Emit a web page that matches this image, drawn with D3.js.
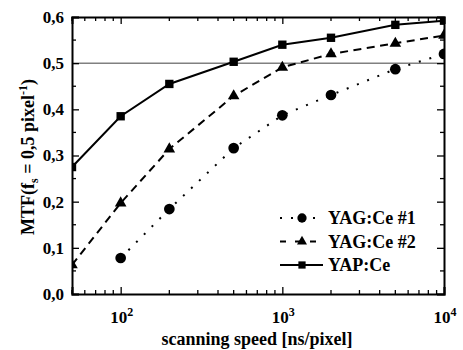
<!DOCTYPE html>
<html>
<head>
<meta charset="utf-8">
<script src="https://cdn.jsdelivr.net/npm/d3@7"></script>
<style>
  body { margin: 0; background: #fff; }
</style>
</head>
<body>
<div id="chart"></div>
<script>
// scanning speed [ns/pixel]
const speedYAP = [50, 100, 200, 500, 1000, 2000, 5000, 10000];
const mtfYAP = [0.275, 0.385, 0.455, 0.503, 0.540, 0.555, 0.583, 0.592];
const speedYAG2 = [50, 100, 200, 500, 1000, 2000, 5000, 10000];
const mtfYAG2 = [0.063, 0.197, 0.314, 0.429, 0.491, 0.520, 0.543, 0.560];
const speedYAG1 = [100, 200, 500, 1000, 2000, 5000, 10000];
const mtfYAG1 = [0.078, 0.184, 0.316, 0.387, 0.431, 0.487, 0.520];
const seriesNames = ['YAG:Ce #1', 'YAG:Ce #2', 'YAP:Ce'];
const yTicks = [0, 0.1, 0.2, 0.3, 0.4, 0.5, 0.6];
const xTicks = [100, 1000, 10000];
const refLevel = 0.5;

const width = 463, height = 350;
const margin = { top: 17, right: 19, bottom: 56, left: 72 };
const iw = width - margin.left - margin.right;
const ih = height - margin.top - margin.bottom;
const FONT = 'Liberation Serif';

const x = d3.scaleLog().domain([50, 10000]).range([0, iw]);
const y = d3.scaleLinear().domain([0, 0.6]).range([ih, 0]);

const svg = d3.select('#chart').append('svg')
  .attr('width', width)
  .attr('height', height);

svg.append('defs').append('clipPath').attr('id', 'clip')
  .append('rect').attr('width', iw).attr('height', ih);

const g = svg.append('g').attr('transform', `translate(${margin.left},${margin.top})`);

// reference line at 0.5
g.append('line')
  .attr('x1', 0).attr('x2', iw)
  .attr('y1', y(refLevel)).attr('y2', y(refLevel))
  .attr('stroke', '#808080').attr('stroke-width', 1.5);

// -- axes (ticks inward)
const minorX = [];
[10, 100, 1000].forEach(d => { for (let k = 2; k <= 9; k++) minorX.push(d * k); });
const minorXIn = minorX.filter(v => v >= 50 && v <= 10000 && xTicks.indexOf(v) < 0);
const minorY = d3.range(0.05, 0.6, 0.1);

function styleAxis(sel) {
  sel.select('.domain').attr('stroke', '#000').attr('stroke-width', 2);
  sel.selectAll('.tick line').attr('stroke', '#000').attr('stroke-width', 1.3);
}

const fmtY = d => d3.format('.1f')(d).replace('.', ',');

// bottom
const xAxis = g.append('g').attr('transform', `translate(0,${ih})`)
  .call(d3.axisBottom(x).tickValues(xTicks).tickSize(-7).tickFormat(''));
styleAxis(xAxis);
xAxis.selectAll('.minor').data(minorXIn).join('line')
  .attr('x1', d => x(d)).attr('x2', d => x(d)).attr('y1', 0).attr('y2', -4)
  .attr('stroke', '#000').attr('stroke-width', 1.3);

// top
const xTop = g.append('g')
  .call(d3.axisTop(x).tickValues(xTicks).tickSize(-7).tickFormat(''));
styleAxis(xTop);
xTop.selectAll('.minor').data(minorXIn).join('line')
  .attr('x1', d => x(d)).attr('x2', d => x(d)).attr('y1', 0).attr('y2', 4)
  .attr('stroke', '#000').attr('stroke-width', 1.3);

// left
const yAxis = g.append('g')
  .call(d3.axisLeft(y).tickValues(yTicks).tickSize(-7).tickPadding(8).tickFormat(fmtY));
styleAxis(yAxis);
yAxis.selectAll('.tick text')
  .attr('font-family', FONT)
  .attr('font-size', 17).attr('font-weight', 'bold').attr('fill', '#000');
yAxis.selectAll('.minor').data(minorY).join('line')
  .attr('x1', 0).attr('x2', 4).attr('y1', d => y(d)).attr('y2', d => y(d))
  .attr('stroke', '#000').attr('stroke-width', 1.3);

// right
const yRight = g.append('g').attr('transform', `translate(${iw},0)`)
  .call(d3.axisRight(y).tickValues(yTicks).tickSize(-7).tickFormat(''));
styleAxis(yRight);
yRight.selectAll('.minor').data(minorY).join('line')
  .attr('x1', 0).attr('x2', -4).attr('y1', d => y(d)).attr('y2', d => y(d))
  .attr('stroke', '#000').attr('stroke-width', 1.3);

// x tick labels 10^n
const xl = g.append('g').selectAll('text').data(xTicks).join('text')
  .attr('x', d => x(d) + 1).attr('y', ih + 29)
  .attr('text-anchor', 'middle')
  .attr('font-family', FONT)
  .attr('font-size', 17).attr('font-weight', 'bold');
xl.append('tspan').text('10');
xl.append('tspan').attr('dy', -7).attr('font-size', 12)
  .text(d => Math.round(Math.log10(d)));

// axis titles
g.append('text')
  .attr('x', iw / 2 - 1).attr('y', ih + 51)
  .attr('text-anchor', 'middle')
  .attr('font-family', FONT)
  .attr('font-size', 18).attr('font-weight', 'bold')
  .text('scanning speed [ns/pixel]');

const yt = svg.append('text')
  .attr('transform', `translate(34,157) rotate(-90)`)
  .attr('text-anchor', 'middle')
  .attr('font-family', FONT)
  .attr('font-size', 18).attr('font-weight', 'bold');
yt.append('tspan').text('MTF(f');
yt.append('tspan').attr('dy', 4).attr('font-size', 12).text('s');
yt.append('tspan').attr('dy', -4).text(' = 0,5 pixel');
yt.append('tspan').attr('dy', -7).attr('font-size', 12).text('-1');
yt.append('tspan').attr('dy', 7).text(')');

// -- series
const series = [
  { name: seriesNames[0], xs: speedYAG1, ys: mtfYAG1, dash: '2,9', width: 2, sym: d3.symbolCircle, size: 90 },
  { name: seriesNames[1], xs: speedYAG2, ys: mtfYAG2, dash: '8,5.5', width: 2, sym: d3.symbolTriangle, size: 58 },
  { name: seriesNames[2], xs: speedYAP, ys: mtfYAP, dash: null, width: 2, sym: d3.symbolSquare, size: 70 }
];

const line = d3.line().x(d => x(d[0])).y(d => y(d[1]));
const plot = g.append('g').attr('clip-path', 'url(#clip)');

series.forEach(s => {
  const pts = s.xs.map((v, i) => [v, s.ys[i]]);
  plot.append('path')
    .datum(pts)
    .attr('fill', 'none')
    .attr('stroke', '#000')
    .attr('stroke-width', s.width)
    .attr('stroke-dasharray', s.dash)
    .attr('d', line);
  plot.append('g').selectAll('path').data(pts).join('path')
    .attr('transform', d => `translate(${x(d[0])},${y(d[1])})`)
    .attr('d', d3.symbol().type(s.sym).size(s.size))
    .attr('fill', '#000');
});

// -- legend
const legend = g.append('g').attr('transform', `translate(${280 - margin.left},${218 - margin.top})`);
series.forEach((s, i) => {
  const row = legend.append('g').attr('transform', `translate(0,${i * 23.5})`);
  row.append('line')
    .attr('x1', 0).attr('x2', 43)
    .attr('stroke', '#000')
    .attr('stroke-width', s.width)
    .attr('stroke-dasharray', s.dash ? (i === 0 ? '2,9' : '6,9') : null);
  row.append('path')
    .attr('transform', 'translate(22,0)')
    .attr('d', d3.symbol().type(s.sym).size(s.size * 0.75))
    .attr('fill', '#000');
  row.append('text')
    .attr('x', 48).attr('y', 6)
    .attr('font-family', FONT)
    .attr('font-size', 18).attr('font-weight', 'bold')
    .text(s.name);
});
</script>
</body>
</html>
